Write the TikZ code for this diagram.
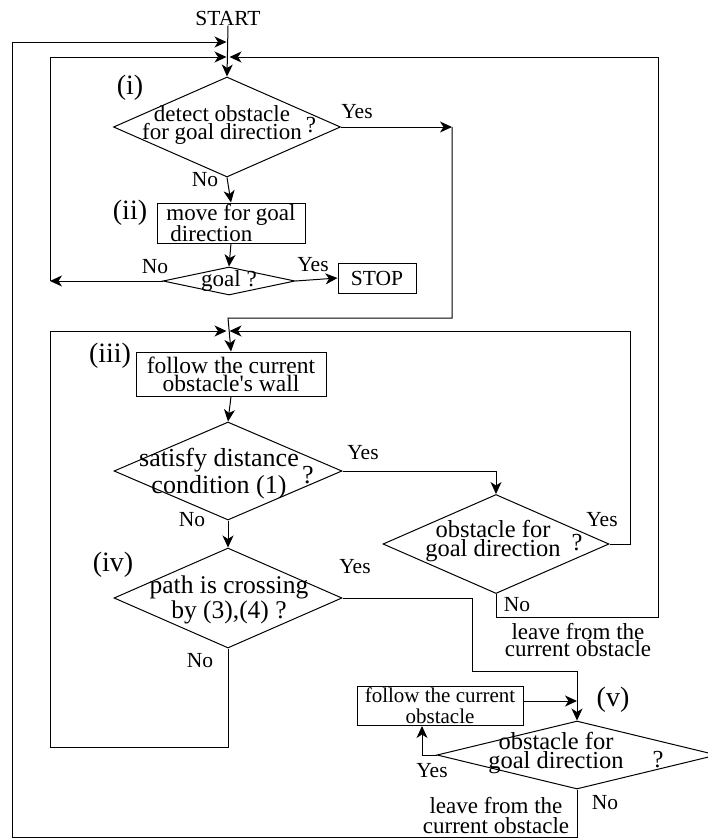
\documentclass[tikz,border=0pt]{standalone}
\usepackage{fontspec}
\setmainfont{Liberation Serif}
\usetikzlibrary{shapes.geometric,arrows.meta,calc}
\begin{document}
\begin{tikzpicture}[x=1pt,y=-1pt,line width=1pt,
  arr/.style={-{Stealth[length=12pt,width=11pt,inset=3.5pt]}},
  dm/.style={draw,diamond,inner sep=0pt},
  bx/.style={draw,rectangle,inner sep=0pt},
  txt/.style={align=center,inner sep=0pt,font=\fontsize{23}{#1}\selectfont},
  txt/.default=17,
  big/.style 2 args={align=center,inner sep=0pt,font=\fontsize{#1}{#2}\selectfont},
  lab/.style={inner sep=0pt,font=\fontsize{21.5}{21.5}\selectfont},
  num/.style={inner sep=0pt,font=\fontsize{28}{28}\selectfont}]
\useasboundingbox (0,0) rectangle (708,838);

% ---- nodes ----
\node[lab] (start) at (228,18) {START};
\node[dm,minimum width=227pt,minimum height=100pt] (d1) at (227,127) {};
\node[txt=16] (t1) at (222,125) {detect obstacle\\for goal direction};
\node[txt] (q1) at (311,125) {?};
\node[num] (n1) at (130,88) {(i)};

\node[bx,minimum width=148pt,minimum height=40pt,align=left,font=\fontsize{23}{17}\selectfont] (b2) at (231,223) {move for goal\\\hspace*{4pt}direction};
\node[num] (n2) at (130,213) {(ii)};

\node[dm,minimum width=132pt,minimum height=28pt] (dg) at (229,281) {};
\node[txt] (tg) at (229,281) {goal ?};
\node[bx,minimum width=78pt,minimum height=30pt,font=\fontsize{21.5}{21.5}\selectfont] (stop) at (377,278) {STOP};

\node[bx,minimum width=190pt,minimum height=44pt,align=center,font=\fontsize{23.5}{18}\selectfont] (b3) at (231,374) {follow the current\\obstacle\textquotesingle s wall};
\node[num] (n3) at (110,356) {(iii)};

\node[dm,minimum width=228pt,minimum height=98pt] (d3) at (228,471) {};
\node[big={26}{27}] (t3) at (219,474) {satisfy distance\\condition (1)};
\node[big={26}{26}] (q3) at (308,475) {?};

\node[dm,minimum width=228pt,minimum height=100pt] (d4) at (228,598) {};
\node[big={25.5}{25}] (t4) at (229,600) {path is crossing\\by (3),(4) ?};
\node[num] (n4) at (113,565) {(iv)};

\node[dm,minimum width=226pt,minimum height=99pt] (d5) at (496,544) {};
\node[big={24.5}{19}] (t5) at (493,541) {obstacle for\\goal direction};
\node[big={24.5}{19}] (q5) at (577,543) {?};
\node[txt=16] (lv1) at (578,640) {leave from the\\current obstacle};

\node[bx,minimum width=166pt,minimum height=39pt,align=center,font=\fontsize{21}{21}\selectfont] (b5) at (440,706) {follow the current\\obstacle};
\node[num] (n5) at (613,700) {(v)};
\node[dm,minimum width=280pt,minimum height=68pt] (d6) at (577,755) {};
\node[big={24.5}{19}] (t6) at (556,753) {obstacle for\\goal direction};
\node[big={24.5}{19}] (q6) at (658,760) {?};
\node[txt=20] (lv2) at (496,816) {leave from the\\current obstacle};

% ---- Yes / No labels ----
\node[lab] (y1) at (357,112) {Yes};
\node[lab] (no1) at (205,180) {No};
\node[lab] (yg) at (313,265) {Yes};
\node[lab] (nog) at (155,267) {No};
\node[lab] (y3) at (363,453) {Yes};
\node[lab] (no3) at (192,520) {No};
\node[lab] (y5) at (602,520) {Yes};
\node[lab] (no5) at (517,605) {No};
\node[lab] (y4) at (355,567) {Yes};
\node[lab] (no4) at (200,661) {No};
\node[lab] (y6) at (432,771) {Yes};
\node[lab] (no6) at (605,803) {No};

% ---- junction coordinates ----
\coordinate (m1) at (226.5,42);
\coordinate (m2l) at (226.5,57);
\coordinate (m2r) at (229.5,57);
\coordinate (m3l) at (226.5,331);
\coordinate (m3r) at (229.5,331);
\coordinate (r1) at (452,127);
\coordinate (gl) at (50,281);
\coordinate (yv) at (422,755);
\coordinate (b5e) at ($(b5.east)+(0,-5)$);

% ---- connectors ----
\draw[arr] (start.south) -- (d1.north);
\draw[arr] (d1.east) -- (r1);
\draw[arr] (r1) -- (452,318) -- (228,318) -- (b3.north);
\draw[arr] (d1.south) -- (b2.north);
\draw[arr] (b2.south) -- (dg.north);
\draw[arr] (dg.west) -- (gl);
\draw[arr] (gl) -- (50,57) -- (m2l);
\draw[arr] (dg.east) -- (stop.west);
\draw[arr] (b3.south) -- (d3.north);
\draw[arr] (d3.south) -- (d4.north);
\draw[arr] (d3.east) -- (d3.east -| d5.north) -- (d5.north);
\draw[arr] (d5.east) -- (630,544) -- (630,331) -- (m3r);
\draw[arr] (d5.south) -- (496,617) -- (658,617) -- (658,57) -- (m2r);
\draw[arr] (d4.south) -- (228,747) -- (50,747) -- (50,331) -- (m3l);
\draw[arr] (d4.east) -- (472,598) -- (472,671) -- (577,671) -- (d6.north);
\draw[arr] (b5e) -- (b5e -| d6.north);
\draw[arr] (d6.west) -- (yv) -- (yv |- b5.south);
\draw[arr] (d6.south) -- (577,837) -- (12,837) -- (12,42) -- (m1);
\end{tikzpicture}
\end{document}
